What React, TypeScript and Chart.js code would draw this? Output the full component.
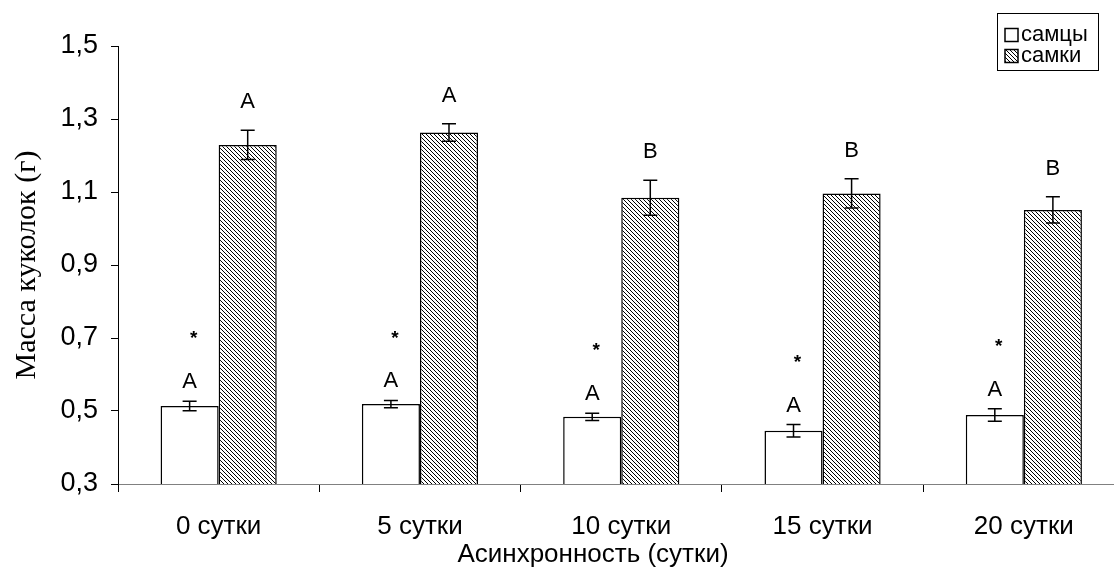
import React, { useEffect, useRef } from "react";
import { Chart, registerables } from "chart.js";

Chart.register(...registerables);

const categories = ["0 сутки", "5 сутки", "10 сутки", "15 сутки", "20 сутки"];
const maleValues = [0.514, 0.519, 0.484, 0.446, 0.489];
const maleErrors = [0.013, 0.01, 0.01, 0.017, 0.017];
const femaleValues = [1.229, 1.263, 1.084, 1.096, 1.051];
const femaleErrors = [0.04, 0.024, 0.048, 0.04, 0.036];
const maleLetters = ["A", "A", "A", "A", "A"];
const femaleLetters = ["A", "A", "B", "B", "B"];
const maleMarks = ["*", "*", "*", "*", "*"];
const seriesNames = ["самцы", "самки"];
const yTitle = "Масса куколок (г)";
const xTitle = "Асинхронность (сутки)";

const SANS = "'Liberation Sans', Arial, sans-serif";
const SERIF = "'Liberation Serif', 'Times New Roman', serif";

function makeHatch(): CanvasPattern | string {
  const c = document.createElement("canvas");
  c.width = 4;
  c.height = 4;
  const g = c.getContext("2d");
  if (!g) return "#888";
  g.fillStyle = "#fff";
  g.fillRect(0, 0, 4, 4);
  g.fillStyle = "#000";
  for (let i = 0; i < 4; i++) g.fillRect(i, i, 1, 1);
  const p = g.createPattern(c, "repeat");
  return p || "#888";
}

export default function App() {
  const ref = useRef<HTMLCanvasElement | null>(null);

  useEffect(() => {
    const canvas = ref.current;
    if (!canvas) return;
    const hatch = makeHatch();
    const errs = [maleErrors, femaleErrors];

    const overlay = {
      id: "overlay",
      afterDatasetsDraw(chart: any) {
        const ctx = chart.ctx as CanvasRenderingContext2D;
        const y = chart.scales.y;
        const area = chart.chartArea;
        ctx.save();
        // error bars
        ctx.strokeStyle = "#000";
        ctx.lineWidth = 1.5;
        chart.data.datasets.forEach((ds: any, di: number) => {
          const meta = chart.getDatasetMeta(di);
          meta.data.forEach((bar: any, i: number) => {
            const v = ds.data[i];
            const e = errs[di][i];
            const yt = y.getPixelForValue(v + e);
            const yb = y.getPixelForValue(v - e);
            const x = bar.x;
            ctx.beginPath();
            ctx.moveTo(x, yt);
            ctx.lineTo(x, yb);
            ctx.moveTo(x - 7, yt);
            ctx.lineTo(x + 7, yt);
            ctx.moveTo(x - 7, yb);
            ctx.lineTo(x + 7, yb);
            ctx.stroke();
          });
        });
        // letters
        ctx.fillStyle = "#000";
        ctx.textAlign = "center";
        ctx.textBaseline = "middle";
        const mMeta = chart.getDatasetMeta(0);
        const fMeta = chart.getDatasetMeta(1);
        categories.forEach((_, i) => {
          const mx = mMeta.data[i].x;
          const fx = fMeta.data[i].x;
          const mTop = y.getPixelForValue(maleValues[i] + maleErrors[i]);
          const fTop = y.getPixelForValue(femaleValues[i] + femaleErrors[i]);
          ctx.font = `22px ${SANS}`;
          ctx.fillText(femaleLetters[i], fx, fTop - 28);
          ctx.fillText(maleLetters[i], mx, mTop - 19);
          ctx.font = `bold 19px ${SANS}`;
          ctx.fillText(maleMarks[i], mx + 4, mTop - 19 - 43);
        });
        // y title
        ctx.save();
        ctx.translate(27, (area.top + area.bottom) / 2);
        ctx.rotate(-Math.PI / 2);
        ctx.font = `30px ${SERIF}`;
        ctx.fillText(yTitle, 0, 0);
        ctx.restore();
        // x title
        ctx.font = `26px ${SANS}`;
        ctx.fillText(xTitle, area.left + 475, 555);
        // legend
        const lx = 997.5, ly = 13.5, lw = 101, lh = 57;
        ctx.fillStyle = "#fff";
        ctx.fillRect(lx, ly, lw, lh);
        ctx.strokeStyle = "#000";
        ctx.lineWidth = 1;
        ctx.strokeRect(lx, ly, lw, lh);
        const rows = [35, 56];
        rows.forEach((ry, k) => {
          ctx.fillStyle = k === 0 ? "#fff" : (hatch as any);
          ctx.fillRect(1005, ry - 6.5, 13, 13);
          ctx.strokeStyle = "#000";
          ctx.lineWidth = 1.5;
          ctx.strokeRect(1005, ry - 6.5, 13, 13);
          ctx.fillStyle = "#000";
          ctx.textAlign = "left";
          ctx.font = `22px ${SANS}`;
          ctx.fillText(seriesNames[k], 1021, ry);
        });
        ctx.restore();
      },
    };

    const chart = new Chart(canvas, {
      type: "bar",
      data: {
        labels: categories,
        datasets: [
          {
            label: seriesNames[0],
            data: maleValues,
            backgroundColor: "#fff",
            borderColor: "#000",
            borderWidth: 1.5,
            barPercentage: 1,
            categoryPercentage: 0.577,
          },
          {
            label: seriesNames[1],
            data: femaleValues,
            backgroundColor: hatch as any,
            borderColor: "#000",
            borderWidth: 1.5,
            barPercentage: 1,
            categoryPercentage: 0.577,
          },
        ],
      },
      options: {
        responsive: false,
        animation: false,
        layout: { padding: { top: 46, right: 5.5, left: 0, bottom: 0 } },
        plugins: {
          legend: { display: false },
          tooltip: { enabled: false },
        },
        scales: {
          x: {
            grid: {
              display: true,
              drawOnChartArea: false,
              offset: true,
              tickLength: 8,
              color: "#000",
            },
            border: { color: "#808080", width: 1 },
            ticks: {
              color: "#000",
              font: { family: SANS, size: 26 },
              padding: 19,
              maxRotation: 0,
              autoSkip: false,
            },
            afterFit(scale: any) {
              scale.height = 87;
            },
          },
          y: {
            min: 0.3,
            max: 1.5,
            grid: {
              drawOnChartArea: false,
              tickLength: 7,
              color: "#000",
            },
            border: { color: "#000", width: 1 },
            ticks: {
              stepSize: 0.2,
              color: "#000",
              font: { family: SANS, size: 27 },
              padding: 13,
              callback: (v: any) => Number(v).toFixed(1).replace(".", ","),
            },
            afterFit(scale: any) {
              scale.width = 118;
            },
          },
        },
      },
      plugins: [overlay],
    });
    return () => chart.destroy();
  }, []);

  return (
    <div
      style={{
        position: "fixed",
        left: 0,
        top: 0,
        width: 1114,
        height: 571,
        overflow: "hidden",
        background: "#fff",
      }}
    >
      <canvas ref={ref} width={1130} height={571} style={{ width: 1130, height: 571 }} />
    </div>
  );
}
